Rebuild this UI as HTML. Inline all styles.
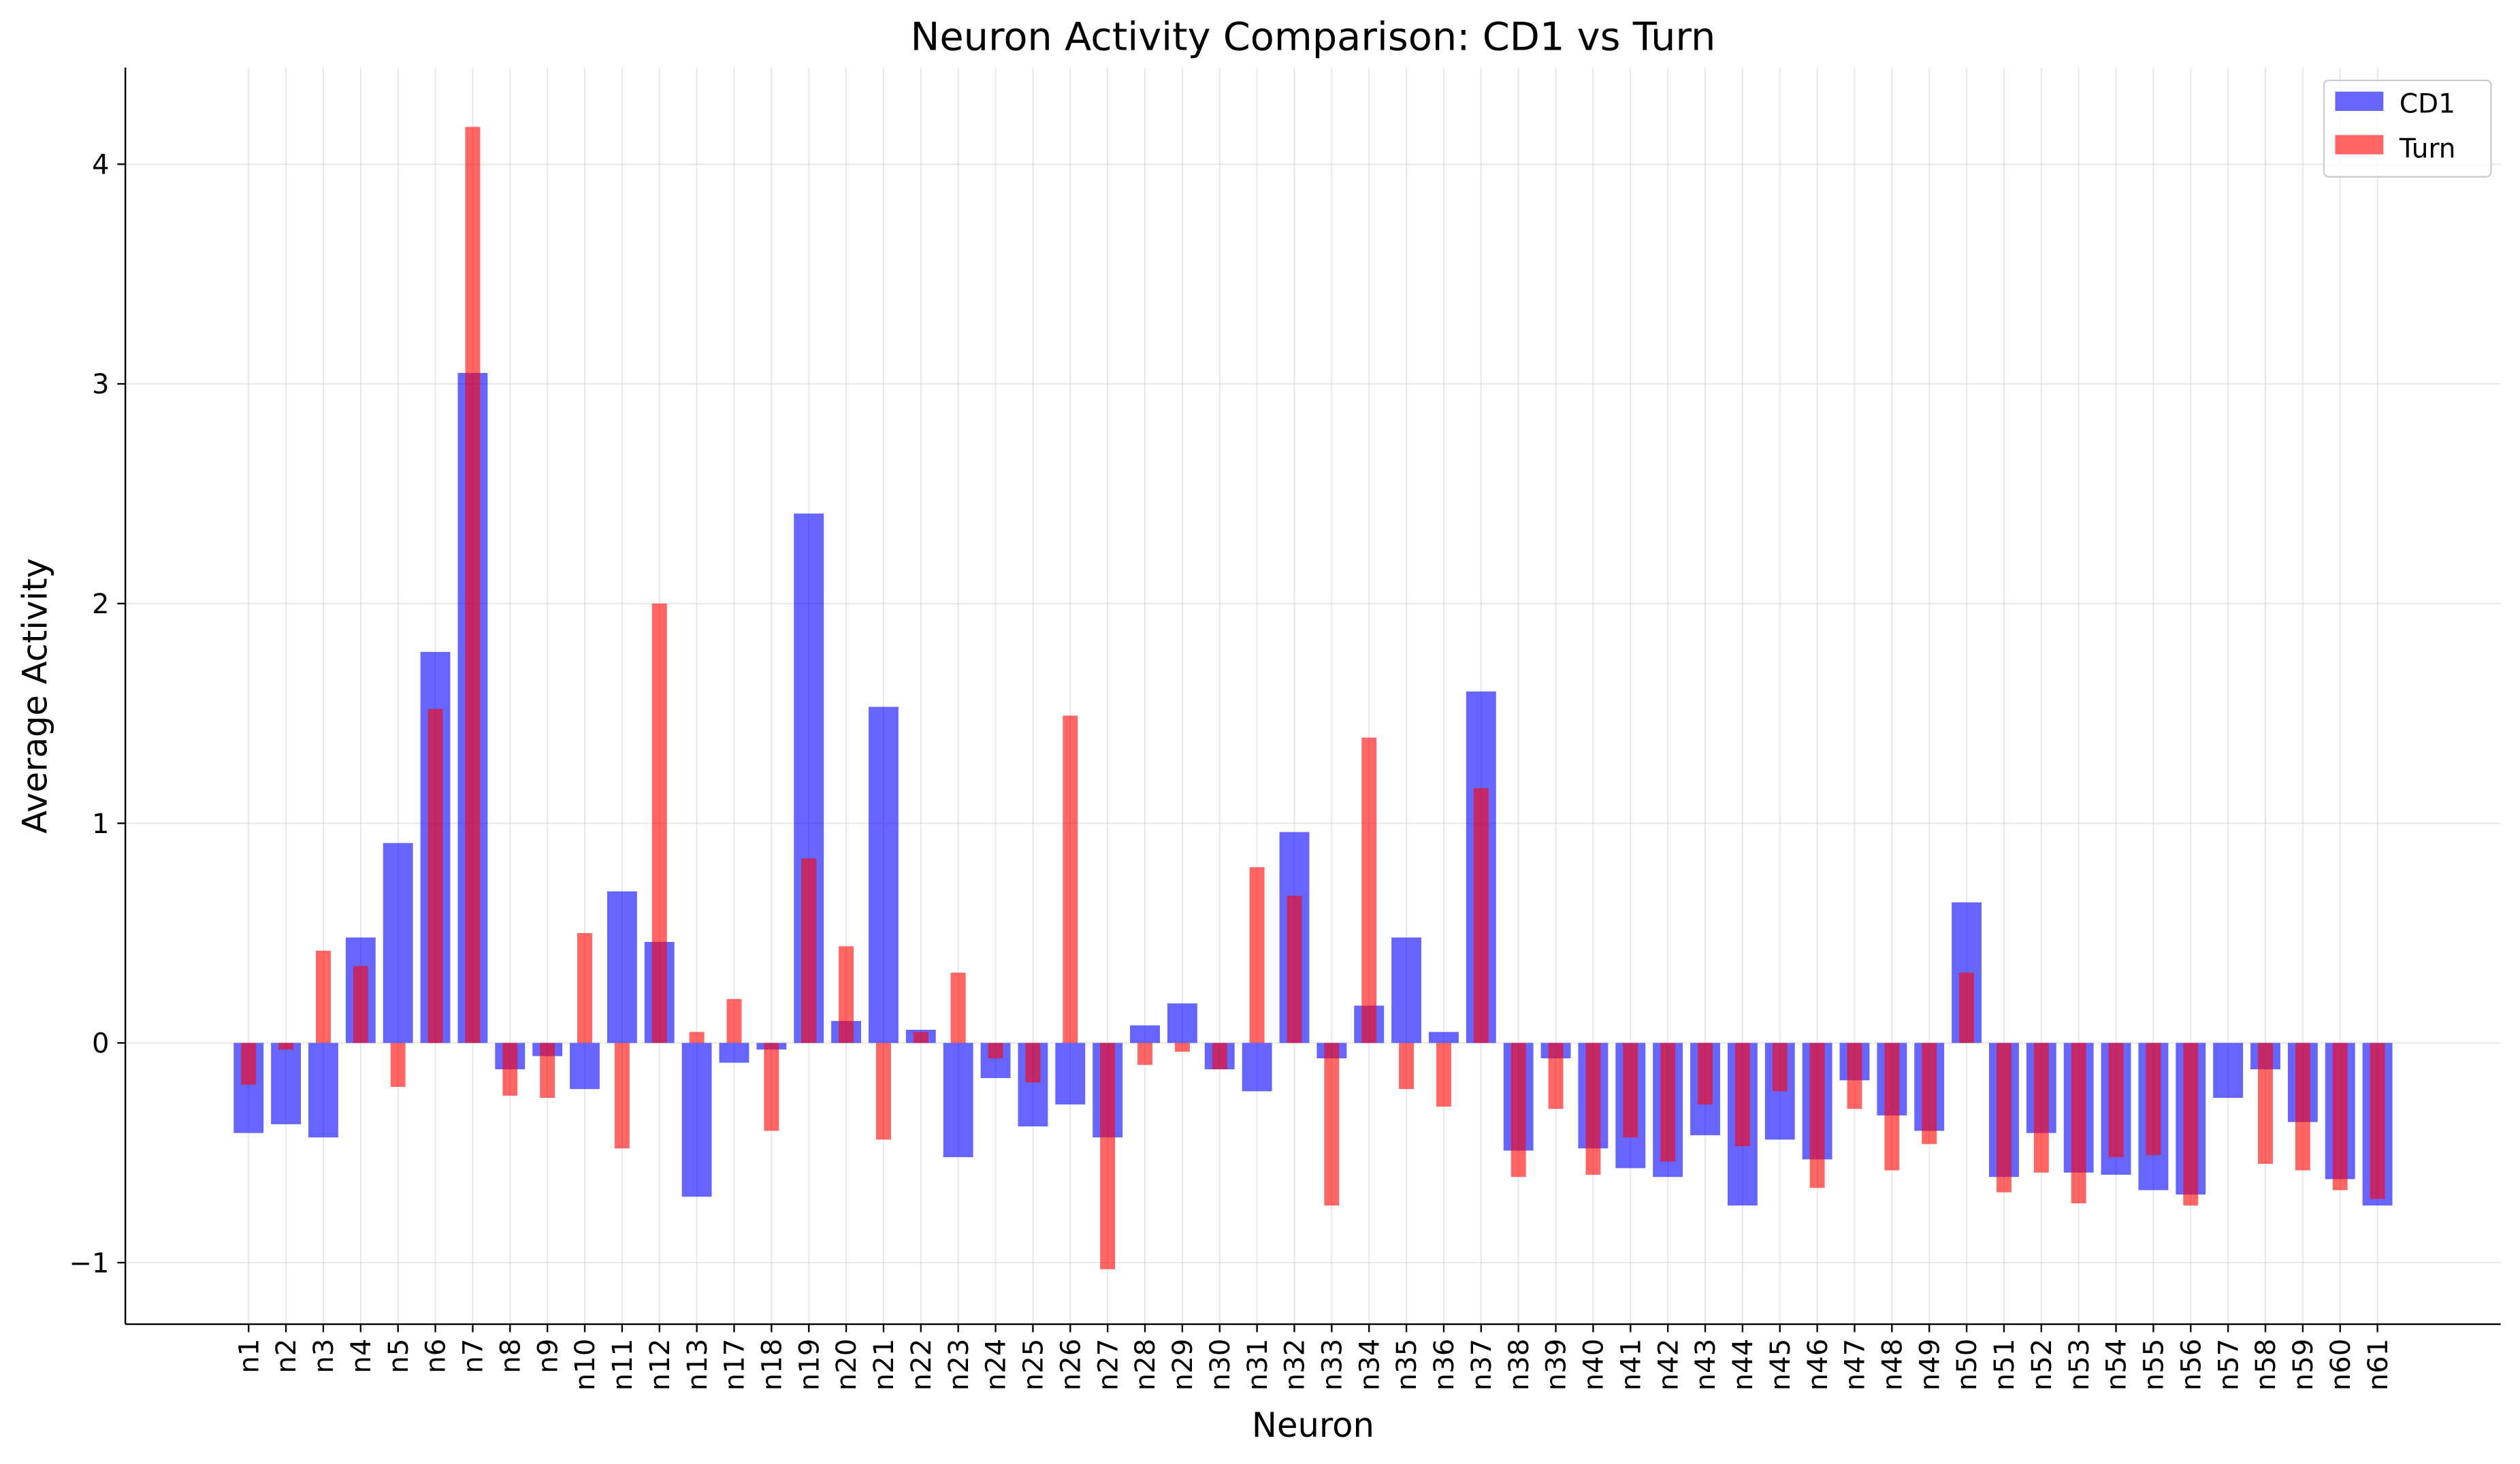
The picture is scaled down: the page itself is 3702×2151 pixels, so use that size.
<!DOCTYPE html>
<html><head><meta charset="utf-8"><style>html,body{margin:0;padding:0;background:#fff}svg{display:block}text{font-family:"DejaVu Sans","Liberation Sans",sans-serif}</style></head>
<body>
<svg id="chart" width="3702" height="2151" viewBox="0 0 1568 911" xmlns="http://www.w3.org/2000/svg">
<rect width="1568" height="911" fill="#fff"/>
<g id="grid"></g><g id="bars"></g><g id="axes"></g>
<text x="817" y="31" text-anchor="middle" font-size="24.3">Neuron Activity Comparison: CD1 vs Turn</text>
<text transform="translate(29,433) rotate(-90)" text-anchor="middle" font-size="21">Average Activity</text>
<text x="817" y="894" text-anchor="middle" font-size="21">Neuron</text>
<g>
<rect x="1446" y="50" width="104" height="60" rx="3" fill="#fff" fill-opacity="0.8" stroke="#ccc"/>
<rect x="1453" y="57" width="30" height="12" fill="#0000ff" fill-opacity="0.6"/>
<text x="1493" y="70" font-size="16.5">CD1</text>
<rect x="1453" y="84" width="30" height="12" fill="#ff0000" fill-opacity="0.6"/>
<text x="1493" y="98" font-size="16.5">Turn</text>
</g>
</svg>
<script>
const categories=["n1","n2","n3","n4","n5","n6","n7","n8","n9","n10","n11","n12","n13","n17","n18","n19","n20","n21","n22","n23","n24","n25","n26","n27","n28","n29","n30","n31","n32","n33","n34","n35","n36","n37","n38","n39","n40","n41","n42","n43","n44","n45","n46","n47","n48","n49","n50","n51","n52","n53","n54","n55","n56","n57","n58","n59","n60","n61"];
const cd1Values=[-0.41,-0.37,-0.43,0.48,0.91,1.78,3.05,-0.12,-0.06,-0.21,0.69,0.46,-0.70,-0.09,-0.03,2.41,0.10,1.53,0.06,-0.52,-0.16,-0.38,-0.28,-0.43,0.08,0.18,-0.12,-0.22,0.96,-0.07,0.17,0.48,0.05,1.60,-0.49,-0.07,-0.48,-0.57,-0.61,-0.42,-0.74,-0.44,-0.53,-0.17,-0.33,-0.40,0.64,-0.61,-0.41,-0.59,-0.60,-0.67,-0.69,-0.25,-0.12,-0.36,-0.62,-0.74];
const turnValues=[-0.19,-0.03,0.42,0.35,-0.20,1.52,4.17,-0.24,-0.25,0.50,-0.48,2.00,0.05,0.20,-0.40,0.84,0.44,-0.44,0.05,0.32,-0.07,-0.18,1.49,-1.03,-0.10,-0.04,-0.12,0.80,0.67,-0.74,1.39,-0.21,-0.29,1.16,-0.61,-0.30,-0.60,-0.43,-0.54,-0.28,-0.47,-0.22,-0.66,-0.30,-0.58,-0.46,0.32,-0.68,-0.59,-0.73,-0.52,-0.51,-0.74,0,-0.55,-0.58,-0.67,-0.71];
const yTicks=[-1,0,1,2,3,4];
const NS="http://www.w3.org/2000/svg";
const L=78,R=1556,T=42,B=824;
const xMin=-3.3,xMax=categories.length-1+3.3,yMin=-1.28,yMax=4.44;
const xs=i=>L+(i-xMin)/(xMax-xMin)*(R-L);
const ys=v=>B-(v-yMin)/(yMax-yMin)*(B-T);
const step=xs(1)-xs(0);
function mk(tag,attrs,parent){const e=document.createElementNS(NS,tag);for(const k in attrs)e.setAttribute(k,attrs[k]);parent.appendChild(e);return e;}
const grid=document.getElementById('grid'),bars=document.getElementById('bars'),axes=document.getElementById('axes');
categories.forEach((c,i)=>{const g=mk('line',{x1:xs(i),x2:xs(i),y1:T,y2:B,stroke:'#b0b0b0','stroke-opacity':0.3,'stroke-width':0.8},grid);

});
yTicks.forEach(v=>{const g=mk('line',{x1:L,x2:R,y1:ys(v),y2:ys(v),stroke:'#b0b0b0','stroke-opacity':0.3,'stroke-width':0.8},grid);

});
categories.forEach((c,i)=>{const v=cd1Values[i],w=step*0.8;
const r=mk('rect',{x:xs(i)-w/2,y:Math.min(ys(v),ys(0)),width:w,height:Math.abs(ys(v)-ys(0)),fill:'#0000ff','fill-opacity':0.6},bars);

});
categories.forEach((c,i)=>{const v=turnValues[i],w=step*0.4;
const r=mk('rect',{x:xs(i)-w/2,y:Math.min(ys(v),ys(0)),width:w,height:Math.abs(ys(v)-ys(0)),fill:'#ff0000','fill-opacity':0.6},bars);

});
const ya=mk('line',{x1:L,x2:L,y1:T,y2:B,stroke:'#000','stroke-width':1},axes);


const xa=mk('line',{x1:L,x2:R,y1:B,y2:B,stroke:'#000','stroke-width':1},axes);


yTicks.forEach(v=>{mk('line',{x1:L-5,x2:L,y1:ys(v),y2:ys(v),stroke:'#000'},axes);
const t=mk('text',{x:L-10,y:ys(v)+6,'text-anchor':'end','font-size':17},axes);
t.textContent=v<0?'\u2212'+Math.abs(v):String(v);

});
categories.forEach((c,i)=>{mk('line',{x1:xs(i),x2:xs(i),y1:B,y2:B+5,stroke:'#000'},axes);
const t=mk('text',{transform:`translate(${xs(i)+6},${B+9}) rotate(-90)`,'text-anchor':'end','font-size':17},axes);
t.textContent=c;

});
</script>
</body></html>
